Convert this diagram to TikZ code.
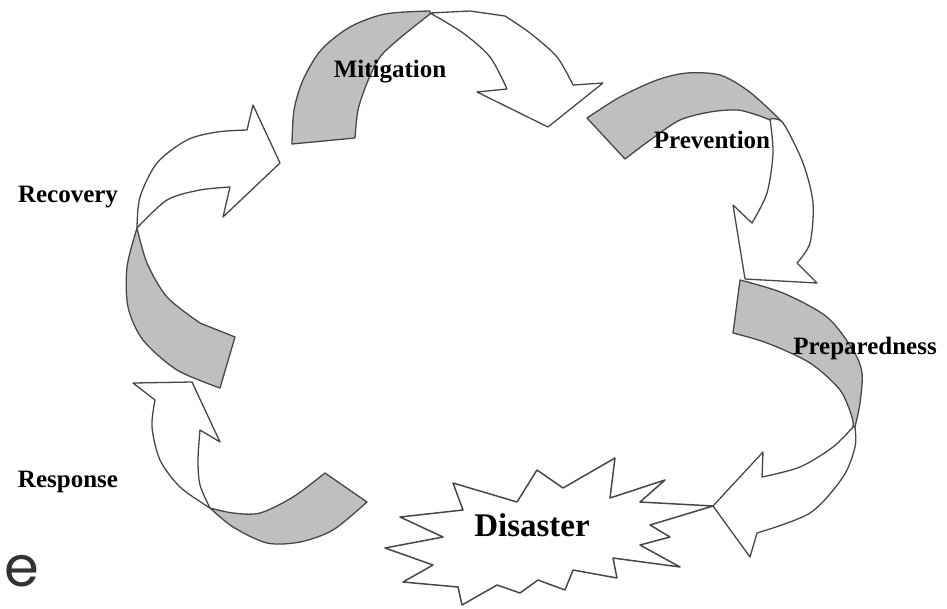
\documentclass[tikz,border=0pt]{standalone}
\usepackage{fontspec}
\setmainfont{Liberation Serif}
\newfontfamily\strayfont{Poppins}
\colorlet{bandcolor}{black!25}
\colorlet{edgecolor}{black!72}

\begin{document}
\begin{tikzpicture}
  [x=1pt,y=-1pt,line join=round,
   % Styles
   back band/.style={fill=bandcolor,draw=edgecolor,line width=1.3pt},
   front band/.style={fill=white,draw=edgecolor,line width=1.3pt},
   burst line/.style={fill=white,draw=edgecolor,line width=1.5pt},
   phase text/.style={font=\bfseries\fontsize{25}{30}\selectfont,inner sep=0pt}]

  \useasboundingbox (0,0) rectangle (947,608);

  % Mitigation
  \filldraw[back band]
    plot[smooth] coordinates {(292,144) (294,110) (303,80) (321,50) (350,27) (385,14) (430,11)}
    -- plot[smooth] coordinates {(430,14) (400,38) (380,57) (367,83) (358,110) (355,138)}
    -- cycle;
  \filldraw[front band]
    plot[smooth] coordinates {(430,13) (463,33) (490,57) (507,89)}
    -- (477,92) -- (548,127) -- (603,83)
    -- plot[smooth] coordinates {(573,85) (557,57) (530,33) (505,16)}
    -- (470,11) -- cycle;

  % Prevention
  \filldraw[back band]
    plot[smooth] coordinates {(587,118) (620,97) (657,80) (687,73) (720,75) (747,90) (770,110) (783,123)}
    -- plot[smooth] coordinates {(770,120) (757,115) (737,110) (710,112) (680,120) (653,138) (625,159)}
    -- cycle;
  \filldraw[front band]
    plot[smooth] coordinates {(770,119) (783,123) (803,163) (813,203) (810,243) (797,263)}
    -- (817,283) -- (745,279) -- (733,205)
    -- plot[smooth] coordinates {(752,223) (767,193) (773,153) (770,119)}
    -- cycle;

  % Preparedness
  \filldraw[back band]
    plot[smooth] coordinates {(740,280) (783,293) (827,317) (853,350) (862,373) (860,403) (855,427)}
    -- plot[smooth] coordinates {(853,427) (852,417) (840,390) (810,363) (767,343) (733,333)}
    -- cycle;

  % Disaster
  \draw[burst line] (400,517) -- (463,510) -- (453,483) -- (517,502) -- (537,470)
    -- (563,488) -- (615,458) -- (610,498) -- (665,480) -- (640,502) -- (713,506)
    -- (650,525) -- (670,537) -- (640,545) -- (680,567) -- (613,558) -- (617,578)
    -- (573,570) -- (565,590) -- (538,580) -- (520,593) -- (497,585) -- (462,605)
    -- (458,587) -- (403,582) -- (433,565) -- (385,548) -- (443,537) -- cycle;

  \filldraw[front band]
    plot[smooth] coordinates {(855,427) (855,447) (843,477) (810,513) (757,533)}
    -- (750,557) -- (713,506) -- (763,452)
    -- plot[smooth] coordinates {(762,477) (800,467) (833,447) (853,427)}
    -- cycle;

  % Response
  \filldraw[back band]
    plot[smooth] coordinates {(367,502) (333,530) (300,542) (267,543) (233,527) (210,508)}
    -- plot[smooth] coordinates {(210,508) (233,513) (260,513) (293,497) (325,473)}
    -- cycle;
  \filldraw[front band]
    plot[smooth] coordinates {(210,508) (180,487) (160,460) (152,427) (155,400)}
    -- (133,383) -- (192,382) -- (220,442)
    -- plot[smooth] coordinates {(200,430) (198,460) (200,485) (210,508)}
    -- cycle;

  % Recovery
  \filldraw[back band]
    plot[smooth] coordinates {(137,228) (127,267) (128,307) (143,340) (177,370) (220,388)}
    -- (235,337)
    -- plot[smooth] coordinates {(200,323) (167,297) (147,263) (137,228)}
    -- cycle;
  \filldraw[front band]
    plot[smooth] coordinates {(137,228) (140,197) (157,163) (187,140) (217,132) (247,130)}
    -- (253,105) -- (280,163) -- (223,217)
    -- plot[smooth] coordinates {(230,187) (200,190) (167,200) (137,228)}
    -- cycle;

  % Labels
  \node[phase text] (mitigation) at (390,72) {Mitigation};
  \node[phase text] (prevention) at (712,140) {Prevention};
  \node[phase text] (preparedness) at (865,348) {Preparedness};
  \node[phase text] (recovery) at (68,197) {Recovery};
  \node[phase text] (response) at (68,482) {Response};
  \node[inner sep=0pt,font=\bfseries\fontsize{33}{38}\selectfont] (disaster) at (532,525) {Disaster};

  \node[anchor=base west,inner sep=0pt,text=black!80,font=\strayfont\fontsize{56}{60}\selectfont]
    (stray) at (4,586) {e};
\end{tikzpicture}
\end{document}
